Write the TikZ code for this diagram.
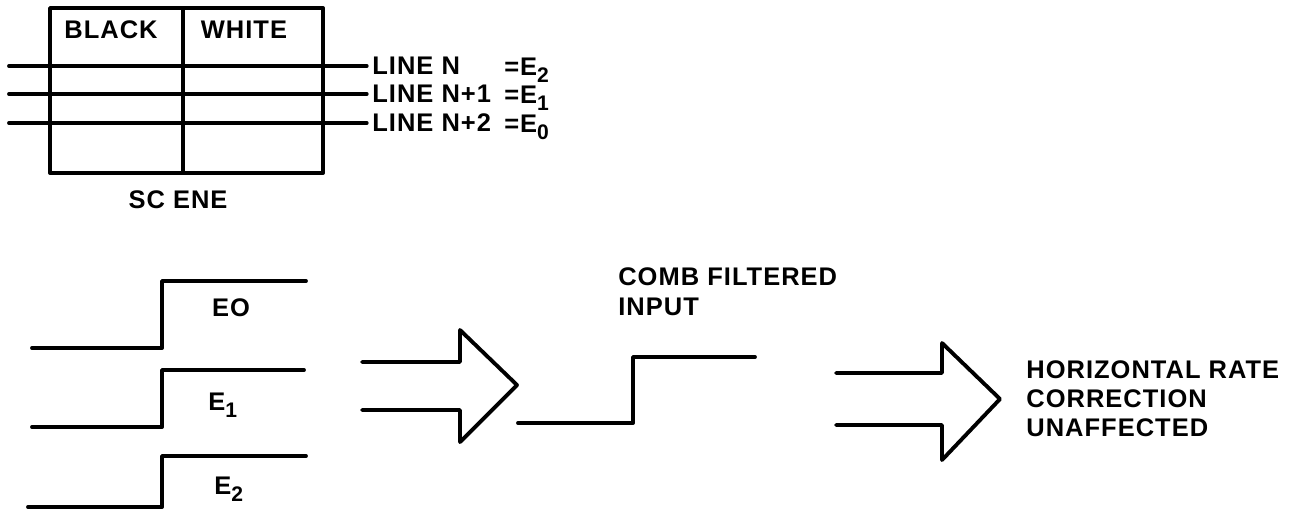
\documentclass[tikz,border=0pt]{standalone}
\usepackage{fontspec}
\setmainfont{Liberation Sans}[LetterSpace=4]
\usetikzlibrary{positioning}
\newcommand{\lowsub}[1]{\raisebox{-4.5pt}{\fontsize{12}{12}\selectfont #1}}

\begin{document}
\begin{tikzpicture}[x=0.02cm, y=-0.02cm,
    wave/.style={line width=2.2pt, line join=round, line cap=round},
    lbl/.style={inner sep=0pt, font=\fontsize{14.5}{16.5}\selectfont\bfseries},
    txt/.style={lbl, align=left, anchor=west}]
    \useasboundingbox (0,0) rectangle (1304,512);

    % scene
    \draw[wave] (50,8) rectangle (323,173);
    \draw[wave] (183,8) -- (183,173);
    \node [lbl] (black) at (111,30) {BLACK};
    \node [lbl] (white) at (244,30) {WHITE};
    \node [lbl] (scene) at (178,200) {SC ENE};

    % scan lines
    \node [txt] (line0) at (372,66) {LINE N};
    \node [txt] (line1) at (372,94) {LINE N+1};
    \node [txt] (line2) at (372,123) {LINE N+2};
    \node [lbl, anchor=base west] (eq0) at (504,75) {=E\lowsub{2}};
    \node [lbl, anchor=base west] (eq1) at (504,103) {=E\lowsub{1}};
    \node [lbl, anchor=base west] (eq2) at (504,132) {=E\lowsub{0}};
    \coordinate (s0) at (9,66);
    \coordinate (s1) at (9,94);
    \coordinate (s2) at (9,123);
    \draw[wave] (s0) -- ([xshift=-3pt]line0.west);
    \draw[wave] (s1) -- ([xshift=-3pt]line1.west);
    \draw[wave] (s2) -- ([xshift=-3pt]line2.west);

    % input edges
    \draw[wave] (32,348) -- (162,348) -- (162,281) -- (306,281);
    \draw[wave] (32,427) -- (162,427) -- (162,370) -- (304,370);
    \draw[wave] (28,507) -- (162,507) -- (162,456) -- (306,456);
    \node [lbl] (e0) at (231,308) {EO};
    \node [lbl, anchor=base west] (e1) at (208,410) {E\lowsub{1}};
    \node [lbl, anchor=base west] (e2) at (214,494) {E\lowsub{2}};

    % first arrow
    \draw[wave] (362,362) -- (460,362) -- (460,330) -- (517,385)
        -- (460,442) -- (460,410) -- (362,410);

    % comb filtered
    \draw[wave] (518,423) -- (633,423) -- (633,357) -- (755,357);
    \node [txt, font=\fontsize{14.5}{17}\selectfont\bfseries] (comb) at (618,292) {COMB FILTERED\\INPUT};

    % second arrow
    \draw[wave] (836,373) -- (942,373) -- (942,343) -- (1000,399)
        -- (942,460) -- (942,425) -- (836,425);
    \node [txt] (result) at (1026,399) {HORIZONTAL RATE\\CORRECTION\\UNAFFECTED};
\end{tikzpicture}
\end{document}
